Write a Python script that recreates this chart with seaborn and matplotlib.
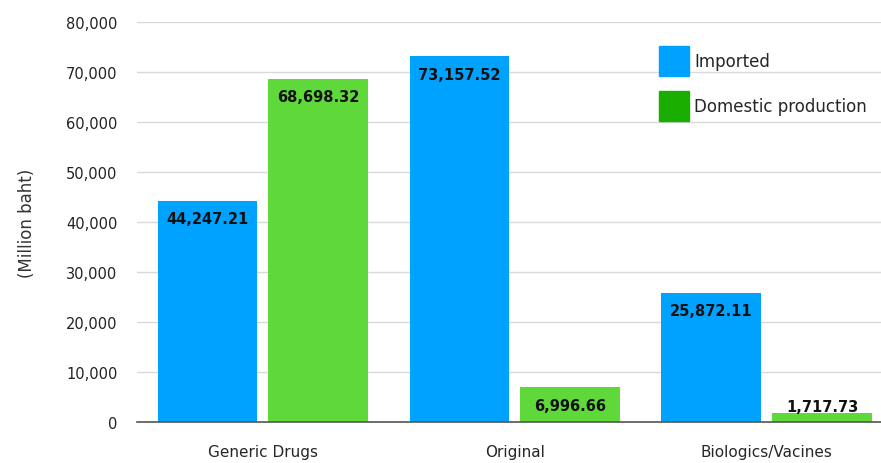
import pandas as pd
import matplotlib.pyplot as plt
import matplotlib.patches as mpatches
import seaborn as sns

categories = ['Generic Drugs', 'Original', 'Biologics/Vacines']
imported = [44247.21, 73157.52, 25872.11]
domestic = [68698.32, 6996.66, 1717.73]
series = ['Imported', 'Domestic production']

df = pd.DataFrame({
    'category': categories * 2,
    'value': imported + domestic,
    'source': [series[0]] * 3 + [series[1]] * 3,
})

sns.set_style('white')
plt.rcParams['font.family'] = ['DejaVu Sans']

bar_colors = {'Imported': '#00A2FF', 'Domestic production': '#5FD93A'}
legend_colors = ['#00A2FF', '#1AAF00']

fig = plt.figure(figsize=(8.81, 4.64), dpi=100)
ax = fig.add_axes([137 / 881, 41 / 464, 744 / 881, 400 / 464])

sns.barplot(data=df, x='category', y='value', hue='source', order=categories,
            hue_order=series, palette=bar_colors, width=0.88, gap=0.1,
            saturation=1, linewidth=0, ax=ax, legend=False, zorder=2)

ax.set_ylim(0, 80000)
ax.set_xlim(-0.5, 2.454)
ax.set_yticks(range(0, 80001, 10000))
ax.set_yticklabels([f'{v:,}' for v in range(0, 80001, 10000)], fontsize=10.5, color='#222222')
ax.tick_params(axis='both', length=0, pad=14)
ax.tick_params(axis='x', labelsize=11, pad=16)
ax.grid(axis='y', color='#d9d9d9', linewidth=1, zorder=0)
ax.set_axisbelow(True)
for s in ['top', 'right', 'left']:
    ax.spines[s].set_visible(False)
ax.spines['bottom'].set_color('#555555')
ax.spines['bottom'].set_linewidth(1.2)
ax.set_xlabel('')
ax.set_ylabel('(Million baht)', fontsize=12, color='#333333', labelpad=22)

# value labels
for container in ax.containers:
    for bar in container:
        h = bar.get_height()
        x = bar.get_x() + bar.get_width() / 2
        if h > 5000:
            ax.text(x, h - 3600, f'{h:,.2f}', ha='center', va='center',
                    fontsize=10.5, fontweight='bold', color='#111111')
        else:
            ax.text(x, h + 1300, f'{h:,.2f}', ha='center', va='center',
                    fontsize=10.5, fontweight='bold', color='#111111')

handles = [mpatches.Patch(color=c, label=l) for c, l in zip(legend_colors, series)]
ax.legend(handles=handles, loc='upper left', bbox_to_anchor=(0.681, 0.978),
          frameon=False, fontsize=12, handlelength=1.85, handleheight=2.4,
          labelspacing=0.92, handletextpad=0.3)

fig.savefig('out.png', dpi=100)
